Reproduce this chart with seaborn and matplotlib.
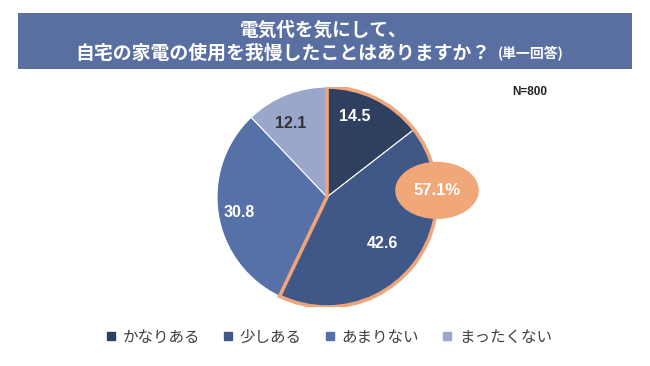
import matplotlib
matplotlib.use("Agg")
import matplotlib.pyplot as plt
import seaborn as sns
from matplotlib.patches import Wedge, Ellipse, Rectangle

sns.set_theme(style="white")
plt.rcParams['font.family'] = ['Noto Sans CJK JP', 'DejaVu Sans']

categories = ["かなりある", "少しある", "あまりない", "まったくない"]
values = [14.5, 42.6, 30.8, 12.1]
colors = ["#2F3F60", "#3F5888", "#5670A8", "#9AA7CB"]
label_colors = ["white", "white", "white", "#333333"]
highlight_text = "57.1%"
n_text = "N=800"
title_line1 = "電気代を気にして、"
title_line2 = "自宅の家電の使用を我慢したことはありますか？"
title_note = "(単一回答)"

W, H = 650, 366
fig = plt.figure(figsize=(W/100, H/100), dpi=100)
fig.patch.set_facecolor("white")

def fx(x):
    return x / W

def fy(y):
    return 1 - y / H

# Title banner
banner = Rectangle((fx(18), fy(69)), fx(632 - 18), (69 - 13) / H,
                   transform=fig.transFigure, facecolor="#5A6FA1", edgecolor="none")
fig.patches.append(banner)
fig.text(fx(324), fy(30), title_line1, ha="center", va="center", color="white",
         fontsize=13.4, fontweight="bold")
fig.text(fx(75), fy(53), title_line2, ha="left", va="center", color="white",
         fontsize=13.6, fontweight="bold")
fig.text(fx(498), fy(54), title_note, ha="left", va="center", color="white",
         fontsize=10, fontweight="bold")

# Pie axes: center (327,197), radius ~110
r_px = 110
cx, cy = 327, 197
ax = fig.add_axes([fx(cx - r_px), fy(cy + r_px), 2 * r_px / W, 2 * r_px / H])
wedges, _ = ax.pie(values, colors=colors, startangle=90, counterclock=False,
                   radius=1.0, wedgeprops=dict(edgecolor="white", linewidth=0.8))
ax.set_xlim(-1, 1)
ax.set_ylim(-1, 1)
ax.set_aspect("auto")

# Highlight outline around first two slices
hl = sum(values[:2])
theta2 = 90
theta1 = 90 - hl / sum(values) * 360
ax.add_patch(Wedge((0, 0), 1.0, theta1, theta2, facecolor="none",
                   edgecolor="#EFA57A", linewidth=2.6, zorder=5))

num_font = ['Liberation Sans', 'DejaVu Sans']

# Value labels
label_pos = [(0.25, 0.73), (0.50, -0.42), (-0.80, -0.14), (-0.33, 0.67)]
for (x, y), v, c in zip(label_pos, values, label_colors):
    ax.text(x, y, f"{v}", ha="center", va="center", color=c, fontsize=11.5,
            fontweight="bold", family=num_font, zorder=6)

# Highlight ellipse
ax.add_patch(Ellipse((1.0, 0.06), 0.76, 0.52, facecolor="#F0A878",
                     edgecolor="none", zorder=7, clip_on=False))
ax.text(1.0, 0.06, highlight_text, ha="center", va="center", color="white",
        fontsize=12, fontweight="bold", family=num_font, zorder=8)

# N text
fig.text(fx(530), fy(92), n_text, ha="center", va="center", color="#222222",
         fontsize=8.5, fontweight="bold", family=num_font)

# Legend
handles = [plt.Line2D([0], [0], marker="s", linestyle="none", markersize=6,
                      markerfacecolor=c, markeredgecolor=c) for c in colors]
fig.legend(handles, categories, loc="center", bbox_to_anchor=(fx(329), fy(337)),
           ncol=4, frameon=False, fontsize=11.2, handlelength=0.6,
           handletextpad=0.45, columnspacing=1.5, labelcolor="#404040")

fig.savefig("out.png", dpi=100, facecolor="white")
